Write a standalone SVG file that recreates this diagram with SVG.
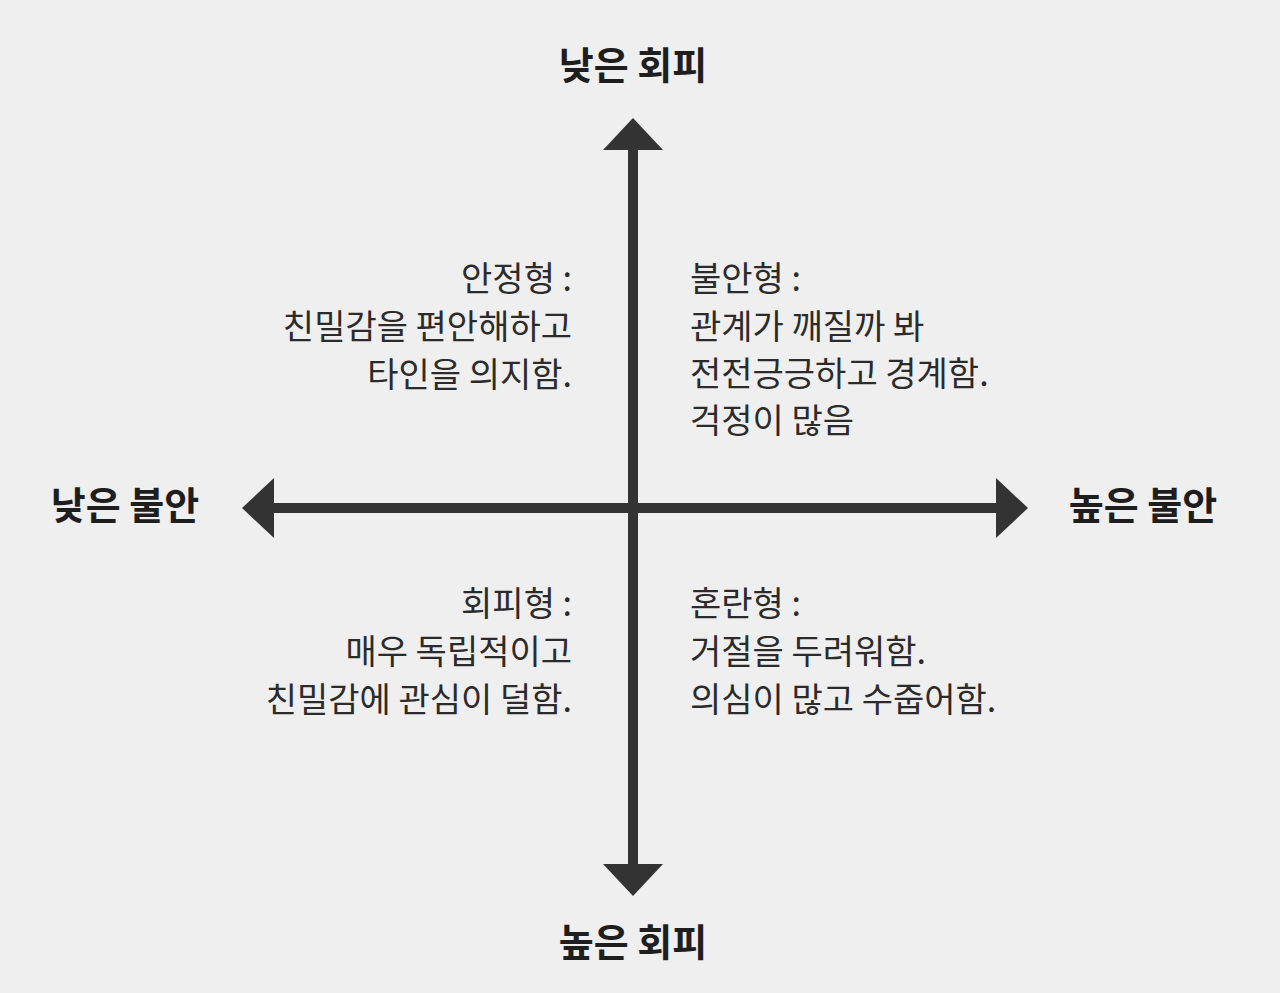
<svg xmlns="http://www.w3.org/2000/svg" width="1280" height="993" viewBox="0 0 1280 993">
<style>
.t{font-family:"Noto Sans CJK KR","Noto Sans",sans-serif;font-size:34px;fill:#2b2b2b}
.b{font-family:"Noto Sans CJK KR","Noto Sans",sans-serif;font-size:38px;font-weight:bold;fill:#1e1e1e}
.r{text-anchor:end}
.c{text-anchor:middle}
</style>
<rect width="1280" height="993" fill="#efefef"/>
<g id="connectors" fill="#333" stroke="none">
<rect x="628" y="145" width="10" height="725"/>
<rect x="268" y="503" width="735" height="10"/>
<polygon points="633,118 663,150 603,150"/>
<polygon points="633,896 663,864 603,864"/>
<polygon points="242,508 274,478 274,538"/>
<polygon points="1028,508 996,478 996,538"/>
</g>
<g id="top"><text class="b c" x="633" y="79">낮은 회피</text></g>
<g id="bottom"><text class="b c" x="633" y="956">높은 회피</text></g>
<g id="left"><text class="b c" x="125" y="519">낮은 불안</text></g>
<g id="right"><text class="b c" x="1143" y="519">높은 불안</text></g>
<g id="secure">
<text class="t r" x="572" y="291">안정형 :</text>
<text class="t r" x="572" y="339">친밀감을 편안해하고</text>
<text class="t r" x="572" y="387">타인을 의지함.</text>
</g>
<g id="anxious">
<text class="t" x="690" y="291">불안형 :</text>
<text class="t" x="690" y="339">관계가 깨질까 봐</text>
<text class="t" x="690" y="386">전전긍긍하고 경계함.</text>
<text class="t" x="690" y="433">걱정이 많음</text>
</g>
<g id="avoidant">
<text class="t r" x="572" y="616">회피형 :</text>
<text class="t r" x="572" y="664">매우 독립적이고</text>
<text class="t r" x="572" y="712">친밀감에 관심이 덜함.</text>
</g>
<g id="fearful">
<text class="t" x="690" y="616">혼란형 :</text>
<text class="t" x="690" y="664">거절을 두려워함.</text>
<text class="t" x="690" y="712">의심이 많고 수줍어함.</text>
</g>
</svg>
